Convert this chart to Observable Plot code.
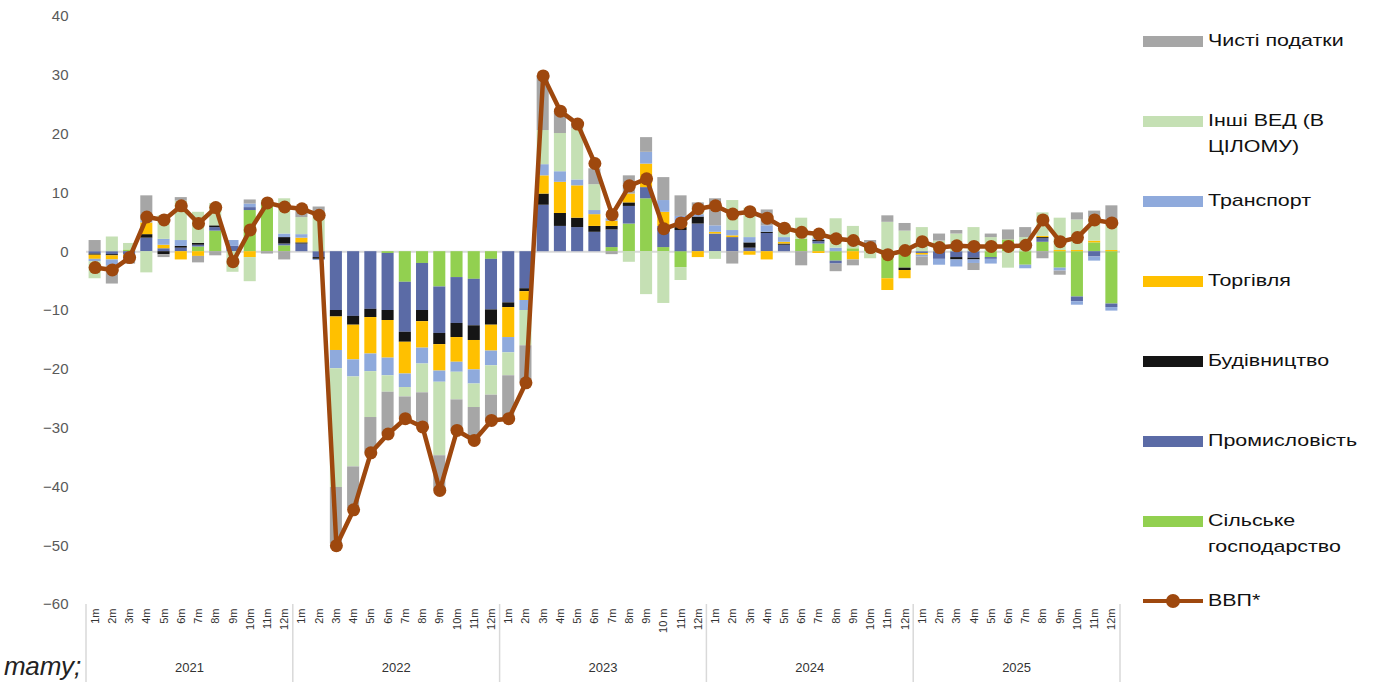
<!DOCTYPE html>
<html>
<head>
<meta charset="utf-8">
<script src="https://cdn.jsdelivr.net/npm/d3@7"></script>
<script src="https://cdn.jsdelivr.net/npm/@observablehq/plot@0.6"></script>
<style>
  html, body { margin: 0; padding: 0; background: #fff; }
  body { width: 1377px; height: 688px; overflow: hidden; position: relative; font-family: Arial, "Liberation Sans", sans-serif; }
  #chart { position: absolute; left: 0; top: 0; }
  #legend { position: absolute; left: 0; top: 0; width: 1377px; height: 688px; pointer-events: none; }
  .sw { position: absolute; left: 1143px; width: 60px; height: 11px; }
  .lt { position: absolute; left: 1208px; font-size: 17px; color: #111; line-height: 26px; white-space: nowrap; transform-origin: left center; transform: scaleX(1.26); }
  #caption { position: absolute; left: 4px; top: 652px; font-size: 26px; line-height: 28px; font-style: italic; color: #222; white-space: nowrap; }
</style>
</head>
<body>
<div id="chart"></div>
<div id="legend"></div>
<div id="caption">тату;</div>
<script>
// ---- data ----
const years = [2021, 2022, 2023, 2024, 2025];
const monthLabels = [
  "1m","2m","3m","4m","5m","6m","7m","8m","9m","10m","11m","12m",
  "1m","2m","3m","4m","5m","6m","7m","8m","9m","10m","11m","12m",
  "1m","2m","3m","4m","5m","6m","7m","8m","9m","10 m","11m","12m",
  "1m","2m","3m","4m","5m","6m","7m","8m","9m","10m","11m","12m",
  "1m","2m","3m","4m","5m","6m","7m","8m","9m","10m","11m","12m"
];
const yTicks = [-60, -50, -40, -30, -20, -10, 0, 10, 20, 30, 40];

const seriesNames = ["Сільське господарство", "Промисловість", "Будівництво", "Торгівля", "Транспорт", "Інші ВЕД (В ЦІЛОМУ)", "Чисті податки"];
const seriesColors = ["#92D050", "#5B6BA6", "#151515", "#FFC000", "#8FAADC", "#C5E0B4", "#A6A6A6"];

const agriculture = [
  0, 0, 0.3, 0, 0, 0, 0.8, 3.5, 0, 7.0, 8.0, 1.0,
  0, 0, 0, 0, 0, -0.3, -5.2, -2.0, -6.0, -4.4, -4.7, -1.3,
  0, 0, 0, 0, 0, 0, 0.7, 4.7, 9.0, 0.7, -2.7, 0,
  0, 0, 0, 0, 0, 2.1, 1.3, -1.6, 0.5, 1.0, -4.6, -2.8,
  0, 0, 0, 0, -1.0, 2.0, -2.3, 1.6, -2.8, -7.7, 1.5, -8.9
];
const industry = [
  -0.4, -0.5, -0.6, 2.3, 0.5, 0.6, 0.3, 0.6, 0.9, 0.5, 0.3, 0.3,
  1.3, -1.0, -10.0, -11.0, -9.8, -9.7, -8.5, -8.0, -7.9, -7.8, -7.9, -8.6,
  -8.7, -6.3, 7.9, 4.3, 4.1, 3.3, 3.0, 3.0, 1.9, 3.6, 3.6, 4.7,
  3.0, 2.4, 0.6, 3.1, 1.1, 0, 0.4, -0.5, 0, 0, 0, 0,
  -0.3, -1.3, -1.0, -1.1, -0.3, 0, 0, 0.6, 0, -0.8, -0.9, -0.6
];
const construction = [
  -0.2, -0.2, 0, 0.6, -0.5, 0.3, 0.3, 0.3, 0, 0, 0, 1.1,
  0.2, -0.3, -1.1, -1.5, -1.4, -1.7, -1.7, -1.9, -1.9, -2.4, -2.5, -2.6,
  -0.8, -0.5, 1.9, 2.2, 1.6, 1.0, 0.6, 0.6, 0, 0, 0.5, 1.2,
  0, 0, 0.9, 0.2, 0.2, 0, 0.2, 0, 0, 0, 0, -0.4,
  0, 0, -0.4, -0.3, 0, 0, 0, 0.2, 0, 0, 0, 0
];
const trade = [
  -0.7, -0.7, -0.5, 2.0, 0.6, -1.4, -0.8, 0, 0, -1.0, 0, 0,
  0.8, 0, -5.7, -5.9, -6.2, -6.4, -5.4, -4.5, -4.5, -4.2, -5.0, -4.4,
  -5.1, -1.5, 3.1, 5.3, 5.5, 2.0, 0.9, 1.5, 4.0, 2.4, 0.3, -1.0,
  0.3, 0.3, -0.6, -1.4, 0.3, 0, -0.3, 0, -1.4, 0, -2.0, -1.4,
  -0.3, 0, 0, 0, 0, 0, 0, 0.2, 0.2, 0.2, 0.3, 0.2
];
const transport = [
  -0.4, -1.0, -0.3, 0.3, 1.0, 1.0, 0, 0, 1.0, 0.6, 0, 0.6,
  0.6, -0.2, -3.1, -2.9, -3.0, -3.0, -2.3, -2.7, -1.9, -1.7, -2.4, -2.5,
  -2.6, -1.7, 1.9, 1.8, 1.0, 0.7, 0.4, 0, 2.0, 2.0, 1.6, 0.4,
  1.1, 0.9, 0.9, 1.1, 0.8, 0, 0.3, 0.6, 0, 0, 0, 0,
  -0.3, -1.0, -1.2, -0.6, -0.8, 0, -0.6, 0, -0.5, -0.6, -0.7, -0.6
];
const otherActivities = [
  -2.9, 2.5, 1.1, -3.6, 4.0, 6.7, 5.3, 3.8, -3.5, -4.1, 0.4, 6.0,
  2.9, 6.0, -20.2, -15.3, -7.8, -2.8, -1.6, -4.9, -12.5, -4.7, -4.0, -5.0,
  -3.9, -6.0, 5.8, 6.5, 8.7, 4.4, 0, -1.8, -7.3, -8.8, -2.2, 1.0,
  -1.3, 5.1, 5.0, 0, 1.6, 3.6, 1.1, 5.0, 3.8, -1.2, 5.0, 3.5,
  4.1, 1.8, 3.0, 4.1, 2.4, -2.8, 2.4, 4.0, 5.5, 5.2, 4.0, 4.8
];
const netTaxes = [
  1.9, -3.1, -0.7, 4.3, -0.5, 0.6, -1.1, -0.7, 0, 0.7, -0.4, -1.4,
  1.6, 1.6, -9.6, -7.2, -6.0, -7.1, -3.7, -5.7, -5.9, -5.3, -5.6, -4.3,
  -7.3, -6.3, 9.3, 3.8, 0.8, 2.7, -0.5, 3.1, 2.5, 3.9, 3.5, 1.0,
  4.6, -2.1, 0, 2.7, 0, -2.4, 0, -1.3, -1.0, 0.9, 1.1, 1.3,
  -1.5, 1.2, 0.6, -1.2, 0.6, 1.7, 1.7, -1.2, -0.7, 1.2, 1.1, 2.8
];
const gdp = [
  -2.7, -3.1, -1.0, 5.9, 5.4, 7.8, 4.8, 7.5, -1.7, 3.7, 8.3, 7.6,
  7.3, 6.2, -50.0, -43.9, -34.2, -31.0, -28.4, -29.8, -40.6, -30.4, -32.1, -28.7,
  -28.4, -22.3, 29.9, 23.9, 21.7, 15.0, 6.3, 11.2, 12.4, 3.9, 4.9, 7.3,
  7.8, 6.4, 6.8, 5.7, 4.0, 3.3, 3.0, 2.2, 1.9, 0.7, -0.5, 0.2,
  1.7, 0.7, 1.0, 0.9, 0.9, 0.9, 1.1, 5.4, 1.7, 2.4, 5.4, 4.9
];
const gdpName = "ВВП*";
const gdpColor = "#9E480E";

// ---- build tables ----
const keys = [];
years.forEach(y => { for (let m = 1; m <= 12; m++) keys.push(`${y}-${m}`); });
const labelByKey = new Map(keys.map((k, i) => [k, monthLabels[i]]));
const seriesValues = [agriculture, industry, construction, trade, transport, otherActivities, netTaxes];
const rows = [];
seriesNames.forEach((name, si) => {
  keys.forEach((k, i) => rows.push({ key: k, series: name, value: seriesValues[si][i] }));
});
const gdpRows = keys.map((k, i) => ({ key: k, value: gdp[i] }));

const W = 1130, H = 688, ML = 86, MR = 10, MT = 16, MB = 84;
const font = "Arial, 'Liberation Sans', sans-serif";

const chart = Plot.plot({
  width: W, height: H,
  marginLeft: ML, marginRight: MR, marginTop: MT, marginBottom: MB,
  style: { fontFamily: font, background: "transparent", overflow: "visible" },
  x: { type: "band", domain: keys, paddingInner: 0.3, paddingOuter: 0.15, round: false, label: null },
  y: { domain: [-60, 40], label: null },
  color: { domain: seriesNames, range: seriesColors },
  marks: [
    Plot.ruleY([0], { stroke: "#d9d9d9", strokeWidth: 2 }),
    Plot.barY(rows, { x: "key", y: "value", fill: "series" }),
    Plot.line(gdpRows, { x: "key", y: "value", stroke: gdpColor, strokeWidth: 4.5, strokeLinejoin: "round" }),
    Plot.dot(gdpRows, { x: "key", y: "value", fill: gdpColor, r: 6.5 }),
    Plot.axisY({ ticks: yTicks, tickSize: 0, tickPadding: 18, fontSize: 15, fill: "#595959", label: null }),
    Plot.axisX({ tickSize: 0, tickPadding: 4, tickRotate: -90, fontSize: 11, fill: "#333", label: null,
                 tickFormat: d => labelByKey.get(d) })
  ]
});
document.getElementById("chart").appendChild(chart);

// year separators and year labels, positioned through the x scale
const xs = chart.scale("x");
const step = xs.step, bw = xs.bandwidth;
const svg = d3.select(chart);
const gy = svg.append("g");
const yBottom = H - MB;
years.forEach((y, yi) => {
  const first = keys[yi * 12], last = keys[yi * 12 + 11];
  const x0 = xs.apply(first) - (step - bw) / 2;
  const x1 = xs.apply(last) + bw + (step - bw) / 2;
  gy.append("line").attr("x1", x0).attr("x2", x0).attr("y1", yBottom).attr("y2", yBottom + 78)
    .attr("stroke", "#d9d9d9").attr("stroke-width", 1.5);
  if (yi === years.length - 1)
    gy.append("line").attr("x1", x1).attr("x2", x1).attr("y1", yBottom).attr("y2", yBottom + 78)
      .attr("stroke", "#d9d9d9").attr("stroke-width", 1.5);
  gy.append("text").attr("x", (x0 + x1) / 2).attr("y", yBottom + 68).attr("text-anchor", "middle")
    .attr("font-size", 13).attr("fill", "#333").attr("font-family", font).text(y);
});

// legend
const legend = document.getElementById("legend");
const legendItems = [
  { lines: ["Чисті податки"], color: seriesColors[6] },
  { lines: ["Інші ВЕД (В", "ЦІЛОМУ)"], color: seriesColors[5] },
  { lines: ["Транспорт"], color: seriesColors[4] },
  { lines: ["Торгівля"], color: seriesColors[3] },
  { lines: ["Будівництво"], color: seriesColors[2] },
  { lines: ["Промисловість"], color: seriesColors[1] },
  { lines: ["Сільське", "господарство"], color: seriesColors[0] },
  { lines: [gdpName], color: gdpColor, line: true }
];
legendItems.forEach((it, i) => {
  const cy = 41 + i * 80;
  if (it.line) {
    const s = document.createElement("div");
    s.style.cssText = `position:absolute;left:1143px;top:${cy - 2}px;width:60px;height:4px;background:${it.color}`;
    legend.appendChild(s);
    const d = document.createElement("div");
    d.style.cssText = `position:absolute;left:${1173 - 7}px;top:${cy - 7}px;width:14px;height:14px;border-radius:50%;background:${it.color}`;
    legend.appendChild(d);
  } else {
    const s = document.createElement("div");
    s.className = "sw";
    s.style.top = (cy - 5) + "px";
    s.style.background = it.color;
    legend.appendChild(s);
  }
  const t = document.createElement("div");
  t.className = "lt";
  t.style.top = (cy - 13) + "px";
  t.innerHTML = it.lines.join("<br>");
  legend.appendChild(t);
});
</script>
</body>
</html>
